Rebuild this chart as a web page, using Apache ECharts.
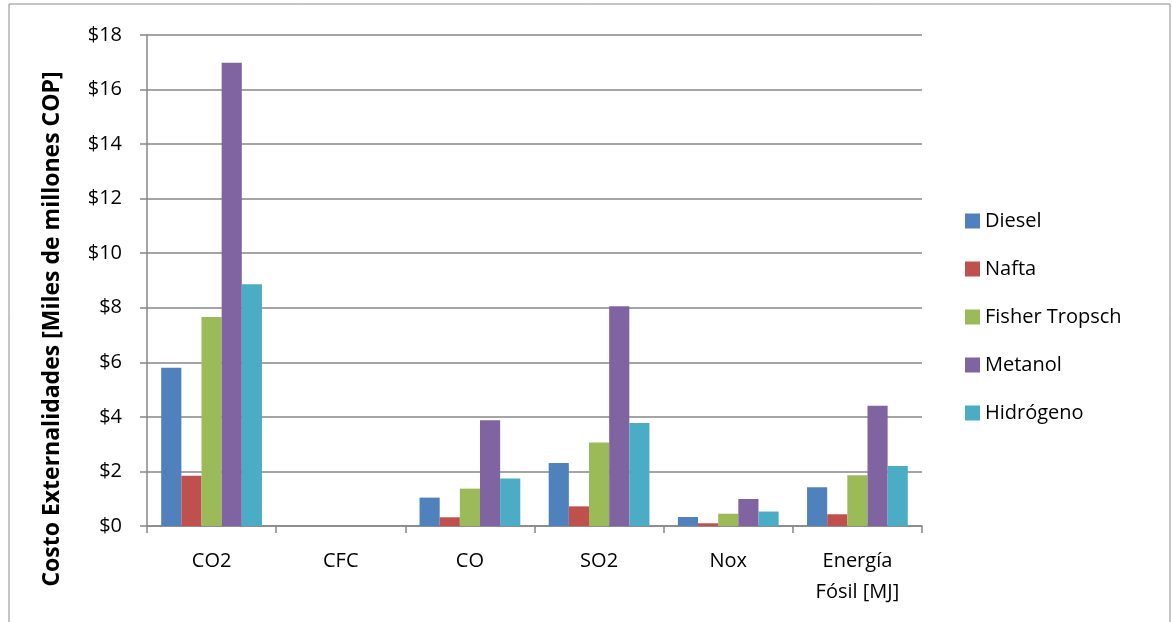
<!DOCTYPE html>
<html>
<head>
<meta charset="utf-8">
<script src="https://cdn.jsdelivr.net/npm/echarts@6/dist/echarts.min.js"></script>
<style>
  html, body { margin: 0; padding: 0; background: #fff; }
  #main { width: 1172px; height: 622px; }
</style>
</head>
<body>
<div id="main"></div>
<script>
// categorias y series
var categories = ['CO2', 'CFC', 'CO', 'SO2', 'Nox', 'Energía\nFósil [MJ]'];
var diesel = [5.80, 0, 1.04, 2.31, 0.33, 1.42];
var nafta = [1.84, 0, 0.32, 0.72, 0.10, 0.43];
var fisher = [7.66, 0, 1.37, 3.06, 0.45, 1.86];
var metanol = [16.98, 0, 3.88, 8.06, 0.99, 4.41];
var hidrogeno = [8.86, 0, 1.74, 3.78, 0.53, 2.20];
var seriesNames = ['Diesel', 'Nafta', 'Fisher Tropsch', 'Metanol', 'Hidrógeno'];
var colors = ['#4F81BD', '#C0504D', '#9BBB59', '#8064A2', '#4BACC6'];

var font = '"Open Sans", Lato, sans-serif';
var chart = echarts.init(document.getElementById('main'));

var list = [];
var values = [diesel, nafta, fisher, metanol, hidrogeno];
for (var i = 0; i < values.length; i++) {
  list.push({
    name: seriesNames[i],
    type: 'bar',
    barGap: '0%',
    barCategoryGap: '22%',
    itemStyle: { color: colors[i] },
    data: values[i]
  });
}

var option = {
  animation: false,
  color: colors,
  grid: { left: 147, right: 250, top: 35, bottom: 96 },
  legend: {
    orient: 'vertical',
    left: 960,
    top: 206,
    icon: 'rect',
    itemWidth: 15,
    itemHeight: 15,
    itemGap: 28,
    textStyle: { fontFamily: font, fontSize: 20, color: '#000', lineHeight: 20 },
    data: seriesNames
  },
  xAxis: {
    type: 'category',
    data: categories,
    axisLine: { lineStyle: { color: '#878787', width: 1.5 } },
    axisTick: { show: true, length: 7, lineStyle: { color: '#878787', width: 1.5 } },
    axisLabel: { color: '#000', fontFamily: font, fontSize: 20, lineHeight: 31, margin: 20, interval: 0 }
  },
  yAxis: {
    type: 'value',
    min: 0,
    max: 18,
    interval: 2,
    axisLine: { show: true, lineStyle: { color: '#878787', width: 1.5 } },
    axisTick: { show: true, length: 7, lineStyle: { color: '#878787', width: 1.5 } },
    axisLabel: {
      color: '#000', fontFamily: font, fontSize: 20, margin: 25,
      formatter: function (v) { return '$' + v; }
    },
    splitLine: { lineStyle: { color: '#878787', width: 1.5 } }
  },
  graphic: [
    {
      type: 'rect',
      shape: { x: 9, y: 4, width: 1161, height: 640 },
      style: { fill: 'none', stroke: '#8a8a8a', lineWidth: 1 },
      silent: true
    },
    {
      type: 'text',
      x: 52,
      y: 329,
      rotation: Math.PI / 2,
      style: {
        text: 'Costo Externalidades [Miles de millones COP]',
        fontFamily: font,
        fontWeight: 'bold',
        fontSize: 23,
        fill: '#000',
        align: 'center',
        verticalAlign: 'middle'
      }
    }
  ],
  series: list
};

option && chart.setOption(option);
</script>
</body>
</html>
